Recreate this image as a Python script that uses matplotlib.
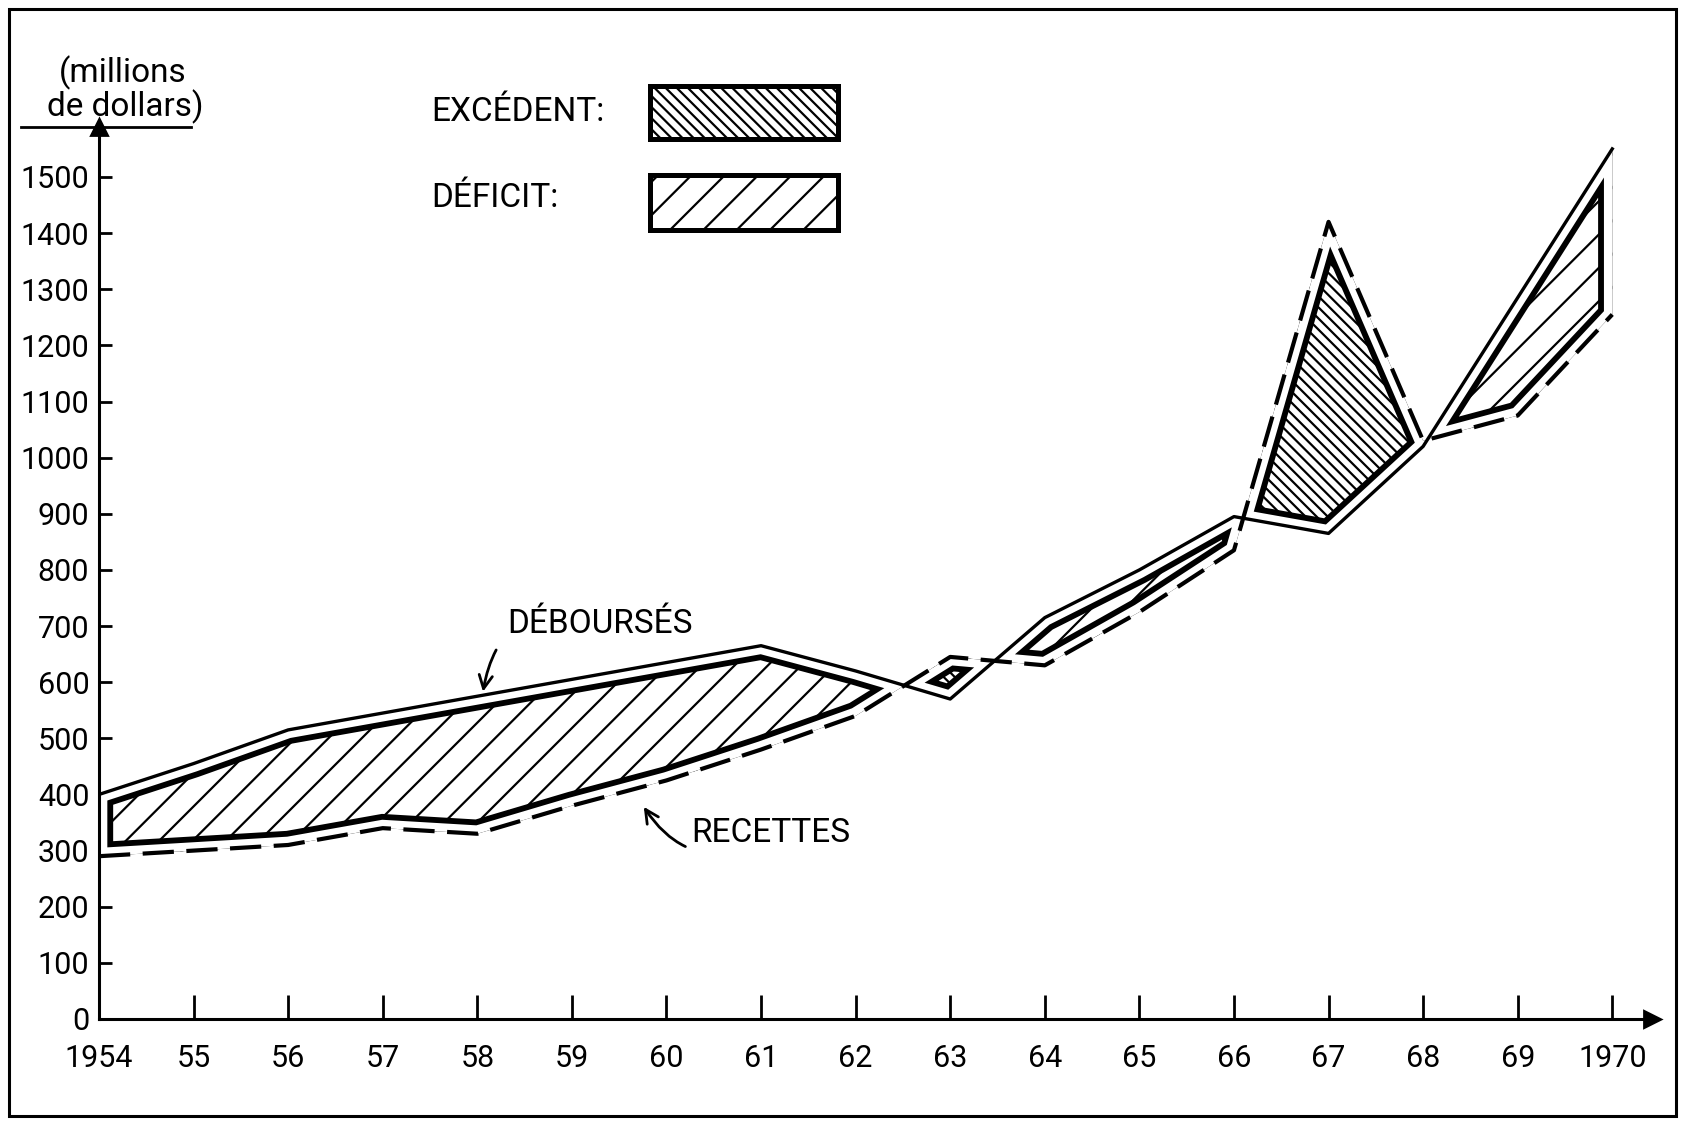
import matplotlib
matplotlib.use('Agg')
import matplotlib.pyplot as plt
from matplotlib.patches import PathPatch, Rectangle
from matplotlib.lines import Line2D
import numpy as np


# Data (millions de dollars)
years = np.arange(1954, 1971)
debourses = np.array([400, 455, 515, 545, 575, 605, 635, 665, 620, 570,
                      715, 800, 895, 865, 1020, 1285, 1550])
recettes = np.array([290, 300, 310, 340, 330, 380, 425, 480, 540, 645,
                     630, 725, 835, 1420, 1030, 1075, 1255])
year_labels = ['1954'] + ['{:02d}'.format(y % 100) for y in years[1:-1]] + ['1970']
y_ticks = list(range(0, 1600, 100))

plt.rcParams['font.family'] = ['Roboto', 'DejaVu Sans']
plt.rcParams['hatch.linewidth'] = 0.8

W, H = 1682, 1124
fig = plt.figure(figsize=(W / 200, H / 200), dpi=200)
ax = fig.add_axes([99 / W, 1 - 1019 / H, (1652 - 99) / W, (1019 - 127) / H])
ax.set_xlim(1954, 1970.42)
ax.set_ylim(0, 1589)

# Axes style
for side in ('top', 'right'):
    ax.spines[side].set_visible(False)
for side in ('left', 'bottom'):
    ax.spines[side].set_linewidth(1.1)
ax.plot(1, 0, marker='>', color='black', markersize=6, transform=ax.transAxes, clip_on=False)
ax.plot(0, 1, marker='^', color='black', markersize=6, transform=ax.transAxes, clip_on=False)

ax.set_xticks(years)
ax.set_xticklabels(year_labels)
ax.set_yticks(y_ticks)
ax.tick_params(axis='x', direction='in', length=8.5, width=1.0, pad=9, labelsize=11)
ax.tick_params(axis='y', direction='in', length=4.5, width=1.0, pad=3.5, labelsize=11)

# Hatched areas between the two series
deficit = ax.fill_between(years, debourses, recettes, where=debourses >= recettes,
                          interpolate=True, facecolor='white', edgecolor='black',
                          hatch='//', linewidth=0, zorder=1)
excedent = ax.fill_between(years, debourses, recettes, where=debourses <= recettes,
                           interpolate=True, facecolor='white', edgecolor='black',
                           hatch='\\' * 6, linewidth=0, zorder=1)

# Thick inner outline, separated from the series lines by a white band
gap, thick = 3.0, 2.1
for coll in (deficit, excedent):
    for path in coll.get_paths():
        clip = PathPatch(path, transform=ax.transData)
        for color, lw, z in (('black', 2 * (gap + thick), 2), ('white', 2 * gap, 2.1)):
            p = PathPatch(path, transform=ax.transData, facecolor='none',
                          edgecolor=color, linewidth=lw, zorder=z)
            ax.add_patch(p)
            p.set_clip_path(clip)

# Series lines
ax.plot(years, debourses, color='black', linewidth=1.2, zorder=3)
ax.plot(years, recettes, color='black', linewidth=1.5, linestyle=(0, (7.5, 3)), zorder=3)

# Annotations
ax.annotate('DÉBOURSÉS', xy=(1958.06, 583), xytext=(1959.3, 704),
            ha='center', va='center', fontsize=12,
            arrowprops=dict(arrowstyle='->', color='black', lw=1.0,
                            connectionstyle='arc3,rad=0.6', shrinkA=4, shrinkB=0))
ax.annotate('RECETTES', xy=(1959.76, 378), xytext=(1961.1, 331),
            ha='center', va='center', fontsize=12,
            arrowprops=dict(arrowstyle='->', color='black', lw=1.0,
                            connectionstyle='arc3,rad=-0.5', shrinkA=34, shrinkB=0))

# Axis unit label with underline
fig.text(123 / W, 1 - 73 / H, '(millions', ha='center', va='center', fontsize=12)
fig.text(125 / W, 1 - 107 / H, 'de dollars)', ha='center', va='center', fontsize=12)
fig.add_artist(Line2D([21 / W, 191 / W], [1 - 127 / H, 1 - 127 / H], color='black', lw=1.0))

# Legend
fig.text(431 / W, 1 - 112 / H, 'EXCÉDENT:', ha='left', va='center', fontsize=12)
fig.text(431 / W, 1 - 198 / H, 'DÉFICIT:', ha='left', va='center', fontsize=12)
fig.add_artist(Rectangle((650 / W, 1 - 139 / H), 188 / W, 53 / H, transform=fig.transFigure,
                         facecolor='white', edgecolor='black', hatch='\\' * 6, linewidth=1.8))
fig.add_artist(Rectangle((650 / W, 1 - 230 / H), 188 / W, 55 / H, transform=fig.transFigure,
                         facecolor='white', edgecolor='black', hatch='//', linewidth=1.8))

# Outer frame
fig.add_artist(Rectangle((9 / W, 1 - 1116 / H), 1667 / W, 1107 / H, transform=fig.transFigure,
                         facecolor='none', edgecolor='black', linewidth=1.1))

fig.savefig('out.png', dpi=200)
